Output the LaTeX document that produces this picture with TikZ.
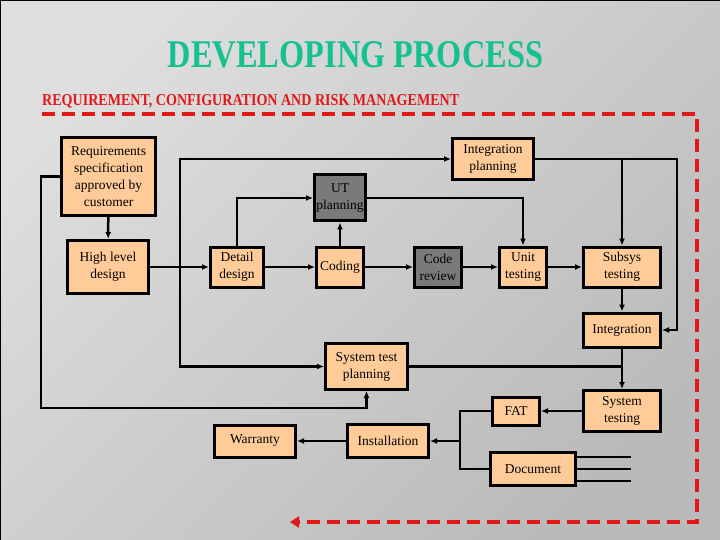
\documentclass[tikz,border=0pt]{standalone}
\usepackage{fontspec}
\setmainfont{Liberation Serif}
\usepackage{graphicx}
\usetikzlibrary{arrows.meta,positioning,calc}
\definecolor{devpeach}{HTML}{FFCC99}
\definecolor{devgrey}{HTML}{7A7A7A}
\definecolor{devgreen}{HTML}{14C18F}
\definecolor{devred}{HTML}{E01818}
\definecolor{devbglight}{HTML}{DEDEDE}
\definecolor{devbgdark}{HTML}{BABABA}
\tikzset{
  stage/.style={draw=black, line width=3pt, fill=devpeach, align=center, inner sep=0pt, font=\fontsize{13.5}{17}\selectfont},
  revw/.style={stage, fill=devgrey},
  sz/.style 2 args={minimum width=#1pt, minimum height=#2pt},
  arr/.style={-{Latex[length=7pt,width=6pt]}, line width=2.5pt},
  ln/.style={line width=2.5pt},
  docline/.style={line width=1.2pt},
  mgmt/.style={draw=devred, line width=4pt, dash pattern=on 13pt off 7pt, -{Triangle[length=9pt,width=11pt]}},
}
\begin{document}
\begin{tikzpicture}[x=1pt, y=-1pt]
  \useasboundingbox (0,0) rectangle (720,540);
  \shade[top color=devbglight, bottom color=devbgdark, shading angle=45] (0,0) rectangle (720,540);
  \draw[line width=1.5pt] (0,540) -- (0,0) -- (720,0);
  \node[anchor=base, text=devgreen] (ttl) at (355.5,68) {\resizebox{375pt}{26pt}{\bfseries DEVELOPING PROCESS}};
  \node[anchor=base west, inner sep=0pt, text=devred] (sub) at (42,106) {\resizebox{417pt}{11pt}{\bfseries REQUIREMENT, CONFIGURATION AND RISK MANAGEMENT}};
  \draw[mgmt] (42,114) -- (697,114) -- (697,522) -- (290,522);

  \node[stage, sz={94}{78}] (req) at (108.5,176.5) {Requirements\\specification\\approved by\\customer};
  \node[stage, sz={81}{53}] (hld) at (108,267) {High level\\design};
  \node[stage, sz={53}{40}] (dd) at (237,267) {Detail\\design};
  \node[revw, sz={51}{46}] (utp) at (340,198) {UT\\planning};
  \node[stage, sz={47}{40}] (cod) at (340,267) {Coding};
  \node[revw, sz={47}{40}] (crev) at (438,267) {Code\\review};
  \node[stage, sz={47}{40}] (ut) at (523,267) {Unit\\testing};
  \node[stage, sz={77}{40}] (subs) at (622,267) {Subsys\\testing};
  \node[stage, sz={81}{41}] (ip) at (493,159) {Integration\\planning};
  \node[stage, sz={77}{34}] (integ) at (622,330) {Integration};
  \node[stage, sz={82}{46}] (stp) at (366.5,366.5) {System test\\planning};
  \node[stage, sz={77}{41}] (st) at (622,411) {System\\testing};
  \node[stage, sz={47}{28}] (fat) at (516,411) {FAT};
  \node[stage, sz={85}{33}] (doc) at (533,469) {Document};
  \node[stage, sz={81}{33}] (inst) at (388,441) {Installation};
  \node[stage, sz={81}{32}] (war) at (255,441) {Warranty};

  \coordinate (lp) at (41,408); \coordinate (br) at (180,267); \coordinate (ipc) at (677,159);
  \coordinate (sj) at (622,366.5); \coordinate (fj) at (460,441);

  \draw[arr] (req) -- (hld); \draw[arr] (req.west) -| (lp) -| (stp.south);
  \draw[arr] (hld) -- (dd); \draw[arr] (br) |- (ip.west); \draw[arr] (br) |- (stp.west);
  \draw[arr] (dd.north) |- (utp.west); \draw[arr] (dd) -- (cod); \draw[arr] (cod) -- (utp);
  \draw[arr] (cod) -- (crev); \draw[arr] (crev) -- (ut); \draw[arr] (ut) -- (subs);
  \draw[arr] (utp.east) -| (ut.north); \draw[arr] (ip.east) -| (subs.north); \draw[arr] (ip.east) -- (ipc) |- (integ.east);
  \draw[arr] (subs) -- (integ); \draw[arr] (integ) -- (st); \draw[ln] (stp.east) -- (sj);
  \draw[arr] (st) -- (fat); \draw[ln] (fat.west) -| (fj); \draw[ln] (doc.west) -| (fj); \draw[arr] (fj) -- (inst.east);
  \draw[arr] (inst) -- (war);
  \foreach \dy in {-12,0,12} \draw[docline] (doc.east) ++(0,\dy) -- ++(54,0);
\end{tikzpicture}
\end{document}
